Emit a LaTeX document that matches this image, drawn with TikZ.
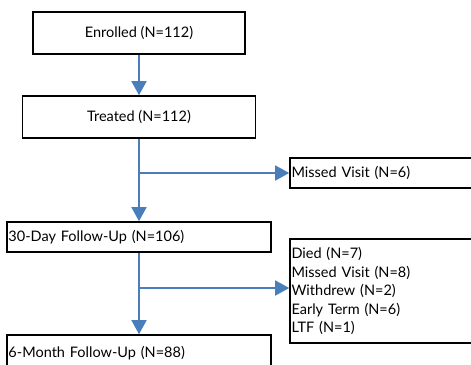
\documentclass[tikz,border=0pt]{standalone}
\usepackage{fontspec}
\setmainfont{Lato}
\usetikzlibrary{arrows.meta,positioning}
\definecolor{flow}{HTML}{4A7EBB}
\tikzset{
  box/.style={draw=black, line width=1.6pt, inner xsep=1.5pt, inner ysep=0pt,
    font=\fontsize{14.5}{18.5}\selectfont},
  lbox/.style={box, align=left},
  link/.style={draw=flow, line width=1.6pt, -{Triangle[width=15pt,length=14pt]}},
}

\begin{document}
\begin{tikzpicture}[x=1pt,y=-1pt]
  \path[use as bounding box, clip] (0,0) rectangle (471,364);

  % main column
  \node[box, minimum width=212pt, minimum height=42pt] (enrol) at (139,33) {Enrolled (N=112)};
  \node[box, minimum width=233pt, minimum height=42pt] (treat) at (139,117) {Treated (N=112)};
  \node[lbox, text width=261pt, minimum height=30pt] (day30) at (139,237) {30-Day Follow-Up (N=106)};
  \node[lbox, text width=261pt, minimum height=36pt] (month6) at (139,353) {6-Month Follow-Up (N=88)};

  % losses
  \node[lbox, text width=227pt, minimum height=30pt] (miss) at (405,173) {Missed Visit (N=6)};
  \node[lbox, text width=227pt, minimum height=104pt] (died) at (405,291)
    {Died (N=7)\\Missed Visit (N=8)\\Withdrew (N=2)\\Early Term (N=6)\\LTF (N=1)};

  \coordinate (split1) at (139,173);
  \coordinate (split2) at (139,288);

  \draw[link] (enrol) -- (treat);
  \draw[link] (treat) -- (day30);
  \draw[link] (day30) -- (month6);
  \draw[link] (split1) -- (split1 -| miss.west);
  \draw[link] (split2) -- (split2 -| died.west);
\end{tikzpicture}
\end{document}
